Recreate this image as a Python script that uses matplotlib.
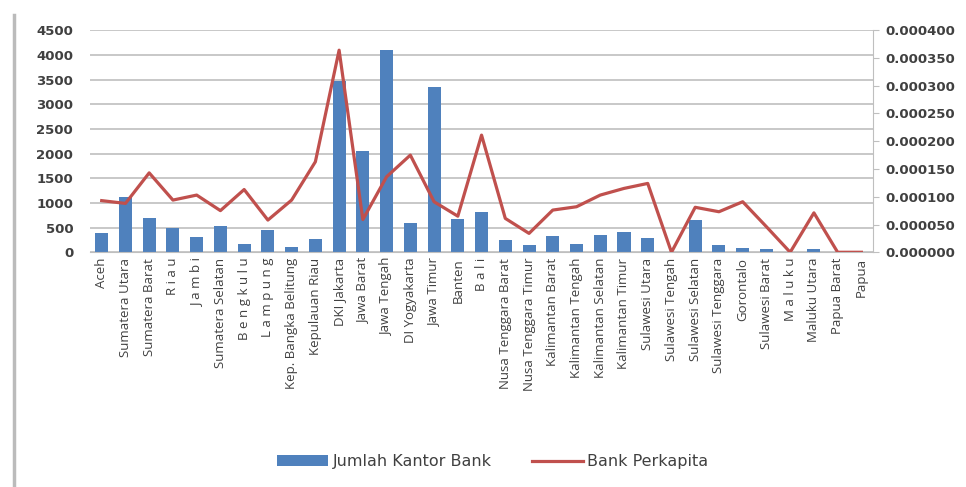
import matplotlib
matplotlib.use("Agg")
from matplotlib import pyplot as plt
from matplotlib.lines import Line2D
from matplotlib.ticker import FormatStrFormatter
import numpy as np

provinces = ["Aceh", "Sumatera Utara", "Sumatera Barat", "R i a u", "J a m b i",
             "Sumatera Selatan", "B e n g k u l u", "L a m p u n g",
             "Kep. Bangka Belitung", "Kepulauan Riau", "DKI Jakarta", "Jawa Barat",
             "Jawa Tengah", "DI Yogyakarta", "Jawa Timur", "Banten", "B a l i",
             "Nusa Tenggara Barat", "Nusa Tenggara Timur", "Kalimantan Barat",
             "Kalimantan Tengah", "Kalimantan Selatan", "Kalimantan Timur",
             "Sulawesi Utara", "Sulawesi Tengah", "Sulawesi Selatan",
             "Sulawesi Tenggara", "Gorontalo", "Sulawesi Barat", "M a l u k u",
             "Maluku Utara", "Papua Barat", "Papua"]

kantor_bank = [395, 1120, 700, 500, 300, 525, 175, 455, 115, 270, 3470, 2055,
               4090, 590, 3340, 675, 815, 255, 150, 325, 175, 360, 405,
               285, 0, 660, 155, 95, 60, 0, 70, 15, 15]

bank_perkapita = [0.000093, 0.000088, 0.000143, 0.000094, 0.000103, 0.000075,
                  0.000113, 0.000058, 0.000094, 0.000163, 0.000364, 0.000059,
                  0.000136, 0.000175, 0.000091, 0.000065, 0.000211, 0.000061,
                  0.000034, 0.000076, 0.000082, 0.000103, 0.000115, 0.000124,
                  0.0, 0.000081, 0.000073, 0.000091, 0.000046, 0.0, 0.000071,
                  0.0, 0.0]

blue = "#4F81BD"
red = "#C0504D"
grid_c = "#BFBFBF"
txt_c = "#404040"

fig = plt.figure(figsize=(9.66, 4.87), dpi=100)
ax = fig.add_axes([0.093, 0.482, 0.811, 0.456])
ax2 = ax.twinx()

x = np.arange(len(provinces))
ax.bar(x, kantor_bank, width=0.55, color=blue, zorder=2, label="Jumlah Kantor Bank")
ax2.plot(x, bank_perkapita, color=red, lw=2.3, zorder=3, label="Bank Perkapita")

ax.set_xlim(-0.5, len(provinces) - 0.5)
ax.set_ylim(0, 4500)
ax.set_yticks(np.arange(0, 4501, 500))
ax2.set_ylim(0, 0.0004)
ax2.set_yticks(np.arange(0, 0.00041, 0.00005))
ax2.yaxis.set_major_formatter(FormatStrFormatter("%.6f"))

ax.grid(axis="y", color=grid_c, lw=1.2, zorder=0)
ax.set_axisbelow(True)

for a in (ax, ax2):
    for s in ("top", "left"):
        a.spines[s].set_visible(False)
ax.spines["right"].set_visible(False)
ax2.spines["bottom"].set_visible(False)
ax.spines["bottom"].set_color(grid_c)
ax2.spines["right"].set_color(grid_c)

ax.set_xticks(x)
ax.set_xticklabels(provinces, rotation=90, fontsize=9.5, color=txt_c,
                   family="Open Sans")
ax.tick_params(axis="x", length=0, pad=4)
ax.tick_params(axis="y", length=0, labelsize=9.5, labelcolor=txt_c, pad=12)
ax2.tick_params(axis="y", length=4, color=grid_c, labelsize=9.5, labelcolor=txt_c, pad=5)
for lbl in ax.get_yticklabels() + ax2.get_yticklabels():
    lbl.set_fontweight("bold")

h1, l1 = ax.get_legend_handles_labels()
h2, l2 = ax2.get_legend_handles_labels()
fig.legend(h1 + h2, l1 + l2, loc="center", bbox_to_anchor=(0.51, 0.052), ncol=2,
           frameon=False, fontsize=11.5, handlelength=3.2, handletextpad=0.3,
           columnspacing=2.5, labelcolor=txt_c)

fig.add_artist(Line2D([0.014, 0.014], [0.0, 0.97], color="#BBBBBB", lw=2.5))

fig.savefig("out.png", dpi=100)
